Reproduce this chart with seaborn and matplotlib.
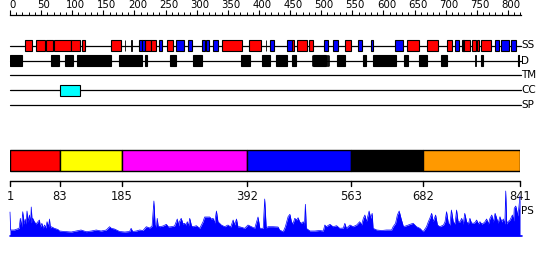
import numpy as np
import pandas as pd
import matplotlib
matplotlib.use("Agg")
import matplotlib.pyplot as plt
import matplotlib.transforms as mtransforms
import seaborn as sns

sns.set_theme(style="white")
plt.rcParams["font.family"] = ["DejaVu Sans"]

# ---------------- data ----------------
seq_len = 841
track_names = ["SS", "D", "TM", "CC", "SP"]

helix = [(25, 38), (43, 59), (61, 71), (73, 101), (102, 117), (119, 124), (167, 183),
         (224, 234), (234, 241), (259, 269), (350, 383), (394, 414), (465, 468), (473, 490),
         (493, 500), (552, 562), (655, 674), (688, 706), (721, 729), (745, 759), (762, 768),
         (770, 773), (777, 793)]
strand = [(213, 218), (218, 223), (246, 252), (275, 287), (294, 300), (317, 322), (323, 328),
          (335, 343), (430, 435), (457, 465), (518, 524), (533, 541), (574, 580), (595, 599),
          (635, 648), (734, 740), (747, 749), (800, 806), (810, 823), (826, 834)]
ss_marks = [190, 200, 422]

disorder = [(1, 21), (69, 82), (91, 104), (112, 167), (180, 219), (223, 226), (265, 274),
            (302, 317), (381, 396), (416, 430), (439, 458), (465, 472), (500, 521), (539, 552),
            (582, 587), (599, 637), (650, 656), (674, 688), (711, 721), (777, 780), (838, 841)]
disorder_marks = [498, 523, 526, 767]

coiled_coil = [(84, 117)]

domain_bounds = [1, 83, 185, 392, 563, 682, 841]
domain_colors = ["#FF0000", "#FFFF00", "#FF00FF", "#0000FF", "#000000", "#FF9900"]

ps_pos = [1, 2, 8, 16, 18, 20, 22, 24, 26, 27.5, 29, 31, 33, 35, 36, 37.5, 38.5, 41, 44, 47,
          49.5, 51, 53.5, 55.5, 58, 60, 62, 64.5, 66, 67.5, 69, 74, 80, 82.5, 91, 102, 110, 118,
          126.5, 135, 143, 151, 159.5, 165, 168, 173, 181.5, 190, 198, 200.5, 203, 209, 214.5,
          220, 225.5, 231, 235, 238, 240, 242, 243.5, 245, 247.5, 253, 258.5, 262, 266.5, 272,
          276.5, 279, 280, 283, 286, 288.5, 291, 293, 295, 297, 300, 302.5, 308, 313.5, 319,
          321.5, 326, 330, 332.5, 335.5, 338, 341, 343.5, 349, 354.5, 360, 364.5, 368.5, 371,
          374, 376.5, 379, 387.5, 393, 398.5, 404, 409.5, 412.5, 418, 420.5, 423, 426, 434,
          442.5, 445, 451, 454.5, 459, 462, 464.5, 467, 470, 473, 475.5, 478, 481, 484, 486,
          487.5, 489, 495, 503, 511, 517, 519.5, 522, 528, 533, 539, 544, 550, 552.5, 555, 561,
          566, 572, 577, 580, 583, 585.5, 588, 592.5, 595, 597.5, 599, 605, 613, 621, 629.5,
          632, 636, 639, 642, 645, 649, 654, 660, 665, 670.5, 676, 681.5, 687, 690, 692.5,
          695.5, 698, 702, 705, 709, 715, 717.5, 720, 723, 725.5, 728, 731, 734, 736.5, 739,
          742, 745, 747.5, 750, 753, 756, 758.5, 761, 764, 767, 769.5, 772.5, 775, 778, 780.5,
          783, 786, 789, 791.5, 794.5, 797, 800, 802.5, 805, 808, 811, 813.5, 816, 817.5, 819,
          821, 824.5, 828.5, 830.5, 831.5, 834, 835.5, 837, 839, 841]
ps_val = [24, 6, 6, 7.7, 17.7, 9, 24.3, 12, 17, 12, 25, 14, 21, 13, 29, 14, 17.7, 14.3, 12,
          14.3, 16, 9, 12.7, 8, 11, 8, 14.3, 9, 17, 8, 9.3, 7.7, 6.5, 5, 4.5, 4, 5, 6, 4.3, 5,
          6, 5, 6, 9.3, 7.7, 7, 4.5, 4, 4.5, 7.7, 4.5, 5, 6, 5.5, 9.3, 8, 10, 35, 11, 9, 17.7,
          10, 9.3, 10, 11.7, 9, 9.3, 10, 17, 10, 14.3, 17.7, 12, 12.7, 11, 14.3, 10, 17.7, 10,
          9.3, 10.3, 7.7, 14.3, 19, 19, 19, 17, 17.7, 13, 25, 14.3, 11, 9.3, 11, 9, 16, 11, 17,
          9, 9.3, 7.7, 11, 9.3, 7.7, 19, 7.7, 7.7, 37, 8, 9.3, 9.3, 9, 6, 4.3, 9.3, 19.3,
          21.7, 14.3, 12, 17.7, 16, 18.3, 14.3, 12.7, 14.3, 11, 31.7, 7.7, 5, 5, 5.5, 5, 11,
          9.3, 11.7, 9.3, 10.3, 7.7, 8, 12.7, 7.7, 11, 9.3, 11, 14.3, 11, 17.7, 21, 14.3, 25,
          17.7, 22.7, 7.7, 6, 5.5, 6, 6, 9.3, 12.7, 21, 25, 17.7, 9.3, 10.3, 11.7, 12.7, 9.3,
          7.7, 4.3, 9.3, 14.3, 17.7, 22.7, 14.3, 21, 11, 9.3, 11, 14.3, 24.3, 12.7, 11, 26,
          14.3, 12, 26, 14.3, 14, 17.7, 12, 22.7, 14.3, 12, 17.7, 13, 12.7, 13.5, 16, 12, 14.3,
          12, 12.7, 14, 17, 12, 17.7, 21, 14, 22.7, 17.7, 13, 19.3, 14, 17, 12, 45, 12, 14.3,
          16, 21, 15, 27.7, 30, 26, 20, 28, 40]

# ---------------- figure ----------------
W, H = 550, 260
fig = plt.figure(figsize=(W / 100, H / 100), dpi=100)
fig.patch.set_facecolor("white")

def fx(px):
    return px / W

# main axes: x in residues, y in pixel rows (top = 0)
ax = fig.add_axes([fx(10), 0, fx(510), 1])
ax.set_xlim(1, seq_len)
ax.set_ylim(H, 0)
ax.axis("off")

row_y = {"SS": 45.5, "D": 60.5, "TM": 75, "CC": 90, "SP": 105}
line_end = seq_len + 1.5
for name in track_names:
    y = row_y[name]
    ax.plot([1, line_end], [y, y], color="black", lw=0.9, zorder=1, clip_on=False)
    ax.text(line_end + 0.5, y, name, ha="left", va="center", fontsize=7.5,
            color="black", clip_on=False)

box_h = 11
def draw_boxes(segs, y, color):
    starts = [s for s, e in segs]
    widths = [e - s for s, e in segs]
    ax.barh([y] * len(segs), widths, left=starts, height=box_h, color=color,
            edgecolor="black", linewidth=0.8, zorder=3)

draw_boxes(helix, row_y["SS"], "#FF0000")
draw_boxes(strand, row_y["SS"], "#0000FF")
ax.barh([row_y["SS"]] * len(ss_marks), [1.2] * len(ss_marks), left=ss_marks,
        height=box_h, color="black", edgecolor="black", linewidth=0.6, zorder=3)
draw_boxes(disorder, row_y["D"], "black")
ax.barh([row_y["D"]] * len(disorder_marks), [1.2] * len(disorder_marks),
        left=disorder_marks, height=box_h, color="black", edgecolor="black",
        linewidth=0.6, zorder=3)
draw_boxes(coiled_coil, row_y["CC"], "#00FFFF")

# domain bar
dom_left = domain_bounds[:-1]
dom_w = list(np.diff(domain_bounds))
ax.barh([160.5] * len(dom_left), dom_w, left=dom_left, height=20.5,
        color=domain_colors, edgecolor="black", linewidth=1, zorder=3)

# domain axis with ticks
ax.plot([1, seq_len], [181, 181], color="black", lw=1, clip_on=False)
for b in domain_bounds:
    ax.plot([b, b], [181, 185.5], color="black", lw=1, clip_on=False)
    ax.text(b, 196.5, str(b), ha="center", va="center", fontsize=8.3,
            color="#111111", clip_on=False)

ax.text(line_end + 0.5, 211, "PS", ha="left", va="center", fontsize=7.5,
        color="black", clip_on=False)

# top ruler
axr = fig.add_axes([fx(10), 1 - 15.5 / H, fx(511), 1e-4])
axr.set_xlim(0, 821)
for sp in ["left", "right", "bottom"]:
    axr.spines[sp].set_visible(False)
axr.spines["top"].set_visible(True)
axr.spines["top"].set_color("black")
axr.spines["top"].set_linewidth(0.9)
axr.set_facecolor("none")
axr.xaxis.set_ticks_position("top")
axr.set_xticks(np.arange(0, 801, 50))
axr.set_xticks(np.arange(0, 821, 10), minor=True)
axr.set_xticklabels([str(v) for v in range(0, 801, 50)])
axr.tick_params(axis="x", which="major", direction="out", length=3.5, width=0.8,
                labelsize=7.3, pad=0.5, colors="black", top=True, labeltop=True,
                bottom=False, labelbottom=False)
axr.tick_params(axis="x", which="minor", direction="out", length=2.2, width=0.7,
                top=True, bottom=False, colors="black")
axr.set_yticks([])
axr.grid(False)
shift = mtransforms.ScaledTranslation(3 / 100, 0, fig.dpi_scale_trans)
for lbl in axr.get_xticklabels():
    lbl.set_transform(lbl.get_transform() + shift)

# PS profile
axp = fig.add_axes([fx(10), (H - 236) / H, fx(510), 40 / H])
axp.set_xlim(1, seq_len)
axp.set_ylim(0, 40)
axp.axis("off")
ps_df = pd.DataFrame({"pos": ps_pos, "score": ps_val})
axp.fill_between(ps_df["pos"], 0, ps_df["score"], color="#0000FF", lw=0,
                 clip_on=False)
sns.lineplot(data=ps_df, x="pos", y="score", ax=axp, color="#0000FF", lw=0.5,
             clip_on=False)
axp.plot([1, seq_len + 4], [0, 0], color="#0000FF", lw=1.2, clip_on=False)
axp.set_xlabel("")
axp.set_ylabel("")

fig.savefig("out.png", dpi=100, facecolor="white")
